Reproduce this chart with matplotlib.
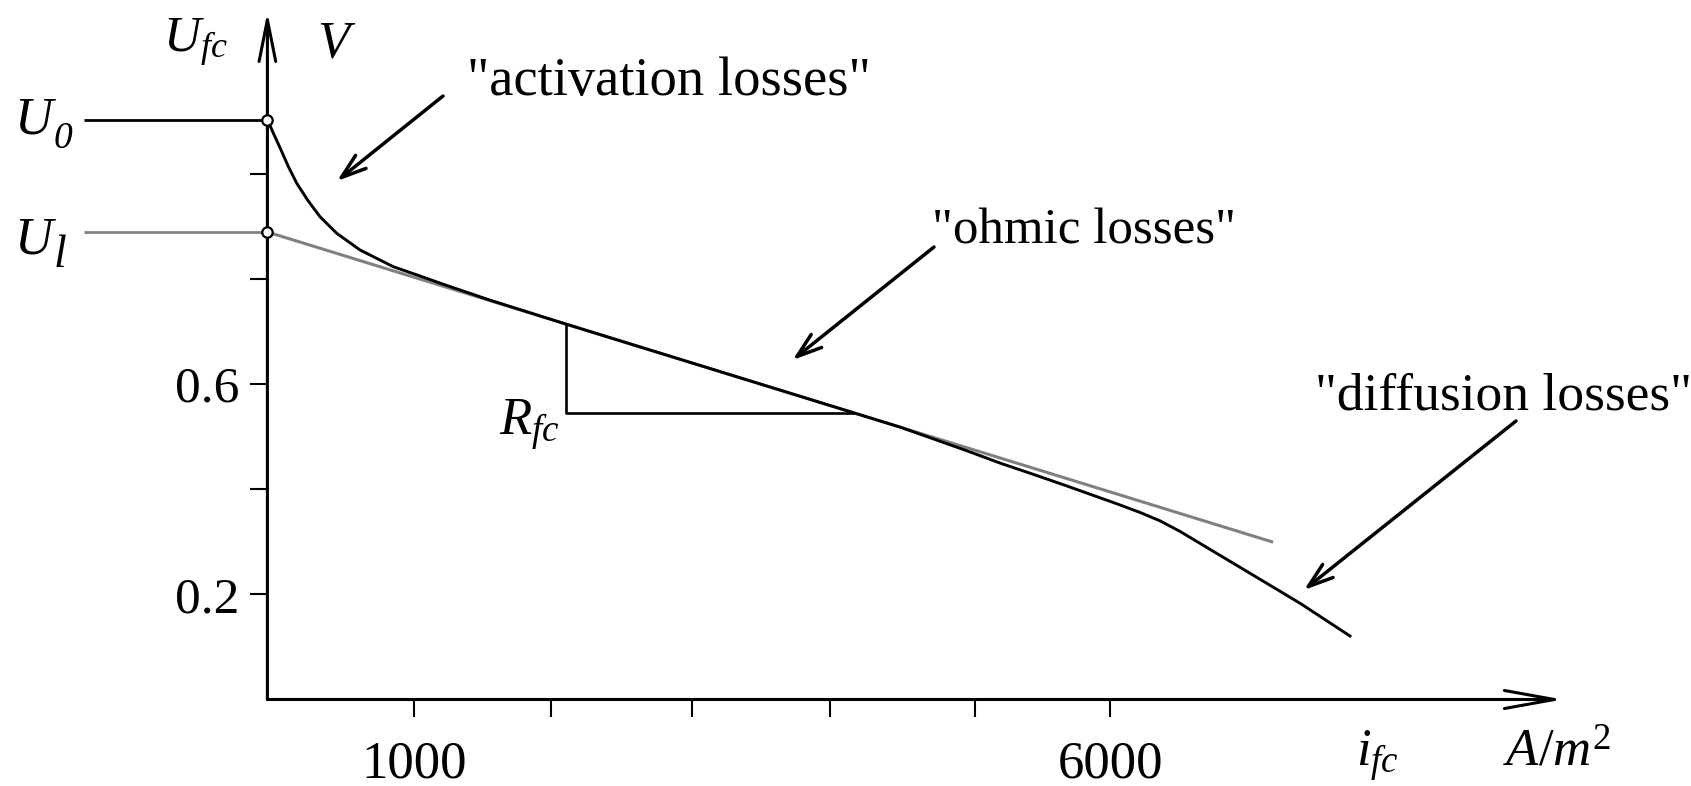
import matplotlib
matplotlib.use('Agg')
import matplotlib.pyplot as plt

# ---------------- data ----------------
# polarisation curve U_fc(i_fc)
i_fc = [0, 43, 98, 151, 211, 289, 378, 498, 666, 905, 1097, 1265, 1600,
        2144, 4212, 4548, 5027, 5266, 5506, 5746, 6106, 6273, 6417, 6560,
        6704, 7064, 7424, 7783]
u_fc = [1.1037, 1.0775, 1.0457, 1.0139, 0.9823, 0.9505, 0.9187, 0.8872,
        0.8554, 0.8236, 0.8059, 0.7901, 0.7600, 0.7146, 0.5458, 0.5184,
        0.4735, 0.4500, 0.4285, 0.4065, 0.3725, 0.3560, 0.3400, 0.3200,
        0.2972, 0.2402, 0.1831, 0.1208]
# ohmic (linear) line
ohmic_i = [0, 7230]
ohmic_u = [0.8896, 0.2994]
U0 = 1.1037
Ul = 0.8896
# slope triangle R_fc
rfc_i = [2144, 2144, 4212]
rfc_u = [0.7146, 0.5458, 0.5458]
# ticks
ytick_vals = [0.2, 0.4, 0.6, 0.8, 1.0]
ytick_labels = ['0.2', '', '0.6', '', '']
xtick_vals = [1055, 2040, 3053, 4046, 5087, 6060]
xtick_labels = ['1000', '', '', '', '', '6000']

# ---------------- style ----------------
plt.rcParams['font.family'] = ['Liberation Serif', 'DejaVu Serif']
plt.rcParams['mathtext.fontset'] = 'custom'
plt.rcParams['mathtext.rm'] = 'Liberation Serif'
plt.rcParams['mathtext.it'] = 'Liberation Serif:italic'

W, H = 1691, 786
fig = plt.figure(figsize=(W / 100, H / 100), dpi=100)
ax = fig.add_axes([0, 0, 1, 1])

# pixel layout of the reference (origin and scale)
X0PX, XS = 267.4, 0.1391
Y0PX, YS = 699.5, 525.5
ax.set_xlim(-X0PX / XS, (W - X0PX) / XS)
ax.set_ylim((Y0PX - H) / YS, Y0PX / YS)


def px2d(px, py):
    return (px - X0PX) / XS, (Y0PX - py) / YS


x_end = px2d(1563, 0)[0]
y_end = px2d(0, 12)[1]
left_ext = px2d(84, 0)[0]

for s in ['top', 'right', 'left', 'bottom']:
    ax.spines[s].set_visible(False)
ax.spines['left'].set_position(('data', 0))
ax.spines['bottom'].set_position(('data', 0))

# axes with open arrowheads
ax.annotate('', xy=(x_end, 0), xytext=(0, 0),
            arrowprops=dict(arrowstyle='->,head_length=3.6,head_width=0.65',
                            lw=2.2, color='black', shrinkA=0, shrinkB=0))
ax.annotate('', xy=(0, y_end), xytext=(0, 0),
            arrowprops=dict(arrowstyle='->,head_length=3.0,head_width=0.6',
                            lw=2.2, color='black', shrinkA=0, shrinkB=0))

ax.set_yticks(ytick_vals, ytick_labels)
ax.set_xticks(xtick_vals, xtick_labels)
ax.tick_params(axis='y', direction='out', length=12.2, width=1.5,
               labelsize=37, pad=8)
ax.tick_params(axis='x', direction='out', length=12.2, width=1.5,
               labelsize=38, pad=17)

# reference levels
ax.plot([left_ext, 0], [U0, U0], color='black', lw=2.0, solid_capstyle='butt')
ax.plot([left_ext, 0], [Ul, Ul], color='#808080', lw=2.0, solid_capstyle='butt')

# ohmic line and curve
ax.plot(ohmic_i, ohmic_u, color='#808080', lw=2.2, solid_capstyle='butt')
ax.plot(i_fc, u_fc, color='black', lw=2.1)
ax.plot(rfc_i, rfc_u, color='black', lw=1.9)

ax.plot([0, 0], [U0, Ul], linestyle='none', marker='o', ms=7.5,
        mfc='white', mec='black', mew=1.6, zorder=5, clip_on=False)

txts = [
    (r'$U_{fc}$', (163, 52), 37),
    (r'$V$', (317, 57), 38),
    ('"activation losses"', (467, 95), 39.3),
    ('"ohmic losses"', (932, 244), 36.7),
    ('"diffusion losses"', (1315, 410), 38.5),
    (r'$R_{fc}$', (499, 435), 38),
    (r'$i_{fc}$', (1356, 766), 38),
    (r'$A/m^{2}$', (1503, 766), 38),
]
for t, (px, py), fs in txts:
    x, y = px2d(px, py)
    ax.text(x, y, t, fontsize=fs, ha='left', va='baseline')

# U_0 and U_l labels: italic U followed by an italic subscript
renderer = fig.canvas.get_renderer()
for (mx, my), sub, drop, sfs in [((14, 133), '0', 15, 27),
                                 ((14, 253), 'l', 14, 33)]:
    tu = ax.text(*px2d(mx, my), 'U', fontsize=38, fontstyle='italic',
                 ha='left', va='baseline')
    bb = tu.get_window_extent(renderer)
    sub_px = bb.x1 + 1
    ax.text(*px2d(sub_px, my + drop), sub, fontsize=sfs, fontstyle='italic',
            ha='left', va='baseline')

# annotation arrows
arrows = [((443, 96), (337, 181)),
          ((934, 247), (792.6, 360)),
          ((1516, 421), (1304, 590))]
for tail, head in arrows:
    ax.annotate('', xy=px2d(*head), xytext=px2d(*tail),
                arrowprops=dict(arrowstyle='->,head_length=1.8,head_width=0.6',
                                lw=2.5, color='black', shrinkA=0, shrinkB=0))

fig.savefig('out.png', dpi=100)
